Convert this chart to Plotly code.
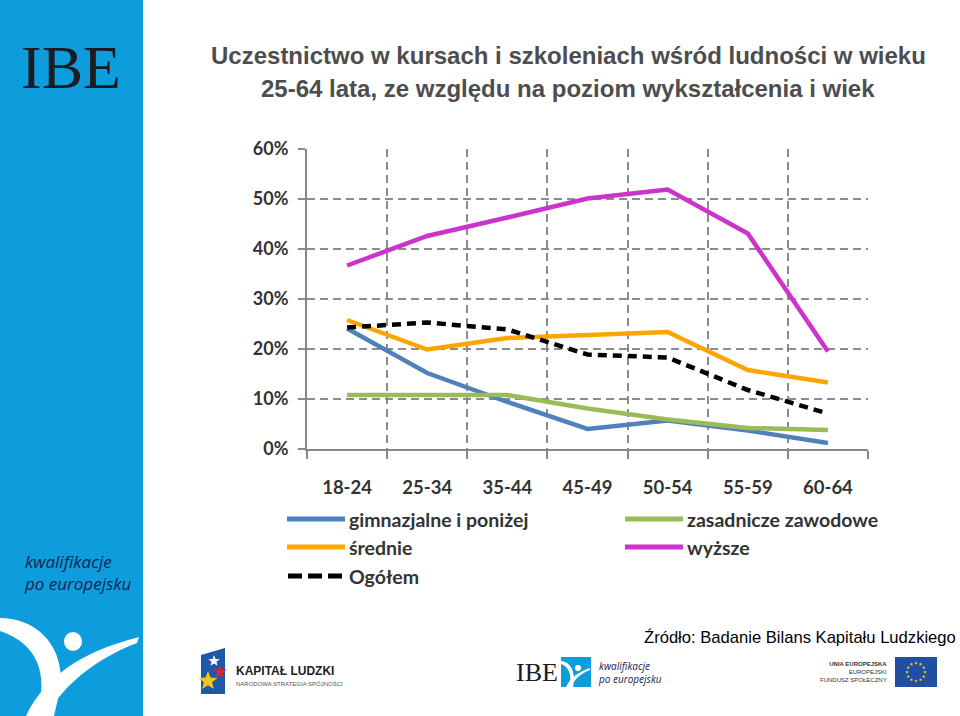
import math
import plotly.graph_objects as go

# ---------------- data ----------------
categories = ["18-24", "25-34", "35-44", "45-49", "50-54", "55-59", "60-64"]
series_names = ["gimnazjalne i poniżej", "zasadnicze zawodowe", "średnie", "wyższe", "Ogółem"]
gimnazjalne = [24.1, 15.2, 9.4, 4.0, 5.7, 3.7, 1.2]
zasadnicze = [10.8, 10.7, 10.8, 8.1, 5.9, 4.2, 3.8]
srednie = [25.8, 19.9, 22.2, 22.9, 23.4, 15.8, 13.3]
wyzsze = [36.7, 42.6, 46.3, 50.1, 51.9, 43.1, 19.5]
ogolem = [24.3, 25.3, 23.9, 18.9, 18.3, 11.8, 7.1]
y_ticks = [0, 10, 20, 30, 40, 50, 60]
y_tick_labels = ["0%", "10%", "20%", "30%", "40%", "50%", "60%"]

title_line1 = "Uczestnictwo w kursach i szkoleniach wśród ludności w wieku"
title_line2 = "25-64 lata, ze względu na poziom wykształcenia i wiek"
source_text = "Źródło: Badanie Bilans Kapitału Ludzkiego"

colors = ["#4F81BD", "#9BBB59", "#FFA500", "#CC33CC", "#000000"]
dashes = ["solid", "solid", "solid", "solid", "9px,6px"]
values = [gimnazjalne, zasadnicze, srednie, wyzsze, ogolem]

# ---------------- geometry helpers ----------------
W, H = 960, 716
L, R, T, B = 307, 868, 149, 449


def px(x):
    return (x - L) / (R - L)


def py(y):
    return (B - y) / (B - T)


def path(cmds):
    out = []
    for c, pts in cmds:
        s = c
        if pts:
            s += " " + " ".join(f"{px(a):.5f},{py(b):.5f}" for a, b in pts)
        out.append(s)
    return " ".join(out)


def star(cx, cy, r_out, color, rot=-90):
    pts = []
    for i in range(10):
        r = r_out if i % 2 == 0 else r_out * 0.42
        a = math.radians(rot + 36 * i)
        pts.append((cx + r * math.cos(a), cy + r * math.sin(a)))
    p = "M " + " L ".join(f"{px(a):.5f},{py(b):.5f}" for a, b in pts) + " Z"
    return dict(type="path", xref="paper", yref="paper", path=p,
                fillcolor=color, line=dict(width=0))


fig = go.Figure()

for name, vals, col, dsh in zip(series_names, values, colors, dashes):
    fig.add_trace(go.Scatter(
        x=categories, y=vals, name=name, mode="lines",
        line=dict(color=col, width=4.5, dash=dsh),
        showlegend=False, hoverinfo="x+y+name",
    ))

shapes = []
annotations = []

# sidebar
shapes.append(dict(type="rect", xref="paper", yref="paper", x0=px(0), x1=px(143),
                   y0=py(716), y1=py(0), fillcolor="#0E9DDC", line=dict(width=0), layer="below"))
# swoosh figure (white)
shapes.append(dict(type="path", xref="paper", yref="paper", layer="above",
                   path=path([("M", [(0, 618)]), ("C", [(38, 618), (66, 648), (60, 690)]),
                              ("L", [(54, 716)]), ("L", [(36, 716)]),
                              ("C", [(48, 680), (42, 645), (0, 631)]), ("Z", [])]),
                   fillcolor="white", line=dict(width=0)))
shapes.append(dict(type="path", xref="paper", yref="paper", layer="above",
                   path=path([("M", [(26, 716)]), ("C", [(44, 678), (80, 652), (139, 637)]),
                              ("L", [(137, 643)]), ("C", [(92, 660), (62, 688), (46, 716)]), ("Z", [])]),
                   fillcolor="white", line=dict(width=0)))
shapes.append(dict(type="circle", xref="paper", yref="paper", layer="above",
                   x0=px(64), x1=px(82), y0=py(651), y1=py(632),
                   fillcolor="white", line=dict(width=0)))

annotations.append(dict(text="IBE", xref="paper", yref="paper", x=px(71), y=py(67),
                        xanchor="center", yanchor="middle", showarrow=False,
                        font=dict(family="Liberation Serif", size=62, color="#1b1b24")))
annotations.append(dict(text="<i>kwalifikacje<br>po europejsku</i>", xref="paper", yref="paper",
                        x=px(22), y=py(572), xanchor="left", yanchor="middle", align="left",
                        showarrow=False,
                        font=dict(family="Open Sans", size=17, color="#15224f")))

# title
annotations.append(dict(text=f"<b>{title_line1}</b>", xref="paper", yref="paper",
                        x=px(568), y=py(55), xanchor="center", yanchor="middle", showarrow=False,
                        font=dict(family="Liberation Sans", size=24, color="#4d4d4d")))
annotations.append(dict(text=f"<b>{title_line2}</b>", xref="paper", yref="paper",
                        x=px(568), y=py(88), xanchor="center", yanchor="middle", showarrow=False,
                        font=dict(family="Liberation Sans", size=24, color="#4d4d4d")))

# custom legend
leg_pos = [(287, 519), (625, 519), (287, 547), (625, 547), (287, 576)]
for (lx, ly), name, col, dsh in zip(leg_pos, series_names, colors, dashes):
    if dsh == "solid":
        shapes.append(dict(type="line", xref="paper", yref="paper", x0=px(lx), x1=px(lx + 58),
                           y0=py(ly), y1=py(ly), line=dict(color=col, width=5)))
    else:
        for k in range(3):
            shapes.append(dict(type="line", xref="paper", yref="paper",
                               x0=px(lx + 1 + k * 20), x1=px(lx + 15 + k * 20),
                               y0=py(ly), y1=py(ly), line=dict(color=col, width=5)))
    annotations.append(dict(text=f"<b>{name}</b>", xref="paper", yref="paper",
                            x=px(lx + 60), y=py(ly), xanchor="left", yanchor="middle",
                            showarrow=False,
                            font=dict(family="Lato", size=19.5, color="#333333")))

# source
annotations.append(dict(text=source_text, xref="paper", yref="paper", x=px(958), y=py(637),
                        xanchor="right", yanchor="middle", showarrow=False,
                        font=dict(family="Liberation Sans", size=16.6, color="#000000")))

# ---------- footer logos ----------
# Kapitał Ludzki
shapes.append(dict(type="path", xref="paper", yref="paper",
                   path=path([("M", [(201, 655)]), ("L", [(225, 648)]), ("L", [(225, 694)]),
                              ("L", [(201, 694)]), ("Z", [])]),
                   fillcolor="#2057A8", line=dict(width=0)))
shapes.append(star(208, 681, 10, "#F4C61C"))
shapes.append(star(220, 672, 7, "#D7262E"))
shapes.append(star(214, 661, 6, "#FFFFFF"))
annotations.append(dict(text="<b>KAPITAŁ LUDZKI</b>", xref="paper", yref="paper", x=px(234), y=py(671),
                        xanchor="left", yanchor="middle", showarrow=False,
                        font=dict(family="Liberation Sans", size=12, color="#222222")))
annotations.append(dict(text="NARODOWA STRATEGIA SPÓJNOŚCI", xref="paper", yref="paper", x=px(234), y=py(683),
                        xanchor="left", yanchor="middle", showarrow=False,
                        font=dict(family="Liberation Sans", size=6, color="#555555")))
# IBE small
annotations.append(dict(text="IBE", xref="paper", yref="paper", x=px(537), y=py(672),
                        xanchor="center", yanchor="middle", showarrow=False,
                        font=dict(family="Liberation Serif", size=26, color="#1b1b24")))
shapes.append(dict(type="rect", xref="paper", yref="paper", x0=px(561), x1=px(591),
                   y0=py(687), y1=py(657), fillcolor="#0E9DDC", line=dict(width=0)))
shapes.append(dict(type="path", xref="paper", yref="paper",
                   path=path([("M", [(566, 687)]), ("C", [(570, 678), (578, 672), (590, 668)]),
                              ("L", [(590, 670)]), ("C", [(580, 674), (574, 680), (571, 687)]), ("Z", [])]),
                   fillcolor="white", line=dict(width=0)))
shapes.append(dict(type="path", xref="paper", yref="paper",
                   path=path([("M", [(561, 661)]), ("C", [(571, 662), (576, 672), (573, 687)]),
                              ("L", [(570, 687)]), ("C", [(572, 674), (568, 666), (561, 664)]), ("Z", [])]),
                   fillcolor="white", line=dict(width=0)))
shapes.append(dict(type="circle", xref="paper", yref="paper", x0=px(575), x1=px(581),
                   y0=py(671), y1=py(665), fillcolor="white", line=dict(width=0)))
annotations.append(dict(text="<i>kwalifikacje<br>po europejsku</i>", xref="paper", yref="paper",
                        x=px(596), y=py(672), xanchor="left", yanchor="middle", align="left",
                        showarrow=False,
                        font=dict(family="Open Sans", size=10, color="#15224f")))
# EU
annotations.append(dict(text="<b>UNIA EUROPEJSKA</b><br>EUROPEJSKI<br>FUNDUSZ SPOŁECZNY", xref="paper",
                        yref="paper", x=px(889), y=py(672), xanchor="right", yanchor="middle",
                        align="right", showarrow=False,
                        font=dict(family="Liberation Sans", size=6, color="#333333")))
shapes.append(dict(type="rect", xref="paper", yref="paper", x0=px(895), x1=px(937),
                   y0=py(687), y1=py(657), fillcolor="#1F4EA3", line=dict(width=0)))
for k in range(12):
    a = 2 * math.pi * k / 12
    shapes.append(star(916 + 9 * math.cos(a), 672 + 9 * math.sin(a), 1.8, "#FFDD00"))

grid_col = "#8C8C8C"
fig.update_layout(
    width=W, height=H,
    margin=dict(l=L, r=W - R, t=T, b=H - B, pad=0),
    paper_bgcolor="white", plot_bgcolor="white",
    showlegend=False,
    shapes=shapes,
    annotations=annotations,
    xaxis=dict(
        type="category", categoryorder="array", categoryarray=categories,
        range=[-0.5, 6.5], tickson="boundaries",
        showgrid=True, gridcolor=grid_col, griddash="8px,5px", gridwidth=1.5,
        showline=True, linecolor="#888888", linewidth=2,
        ticks="outside", ticklen=8, tickcolor="#888888", tickwidth=2,
        ticklabelstandoff=21,
        tickfont=dict(family="Lato", size=18.5, color="#333333", weight="bold"),
        fixedrange=True,
    ),
    yaxis=dict(
        range=[0, 60], tickvals=y_ticks, ticktext=y_tick_labels,
        showgrid=True, gridcolor=grid_col, griddash="8px,5px", gridwidth=1.5,
        zeroline=False,
        showline=True, linecolor="#888888", linewidth=2,
        ticks="outside", ticklen=7, tickcolor="#888888", tickwidth=2,
        ticklabelstandoff=6,
        tickfont=dict(family="Lato", size=18, color="#333333", weight="bold"),
        fixedrange=True,
    ),
)

fig.write_html("out.html", config={"displayModeBar": False},
               post_script="document.body.style.margin='0';document.body.style.overflow='hidden';")
